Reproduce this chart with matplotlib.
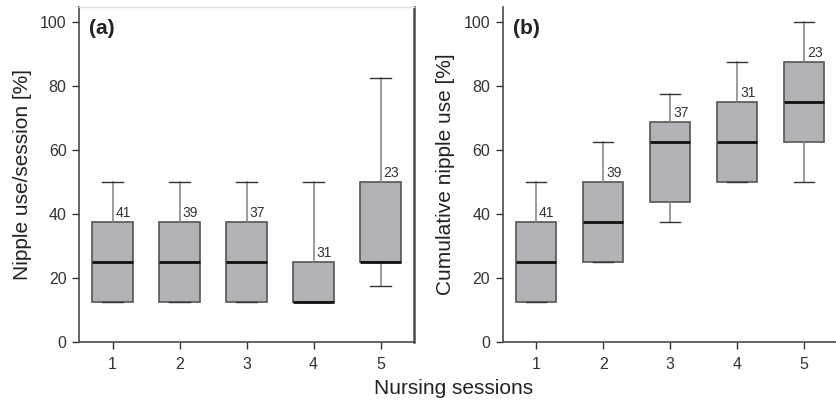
import matplotlib
matplotlib.use("Agg")
import matplotlib.pyplot as plt

plt.rcParams['font.family'] = ['Liberation Sans', 'DejaVu Sans']

sessions = [1, 2, 3, 4, 5]
n_labels = ["41", "39", "37", "31", "23"]

# Panel (a): nipple use per session [%]
a_whislo = [12.5, 12.5, 12.5, 12.5, 17.5]
a_q1 = [12.5, 12.5, 12.5, 12.5, 25.0]
a_med = [25.0, 25.0, 25.0, 12.5, 25.0]
a_q3 = [37.5, 37.5, 37.5, 25.0, 50.0]
a_whishi = [50.0, 50.0, 50.0, 50.0, 82.5]

# Panel (b): cumulative nipple use [%]
b_whislo = [12.5, 25.0, 37.5, 50.0, 50.0]
b_q1 = [12.5, 25.0, 43.75, 50.0, 62.5]
b_med = [25.0, 37.5, 62.5, 62.5, 75.0]
b_q3 = [37.5, 50.0, 68.75, 75.0, 87.5]
b_whishi = [50.0, 62.5, 77.5, 87.5, 100.0]

yticks = [0, 20, 40, 60, 80, 100]

fig = plt.figure(figsize=(8.36, 4.03), dpi=100)
axa = fig.add_axes([79/836, 1-342/403, 335/836, 335/403])
axb = fig.add_axes([502.7/836, 1-342/403, 335/836, 335/403])

spine_col = '#4a4a4a'

def draw(ax, wlo, q1, med, q3, whi, ylabel, tag, boxed):
    stats = []
    for i in range(len(sessions)):
        stats.append(dict(whislo=wlo[i], q1=q1[i], med=med[i], q3=q3[i],
                          whishi=whi[i], fliers=[], label=str(sessions[i])))
    ax.bxp(stats, positions=sessions, widths=0.6, patch_artist=True,
           showfliers=False,
           boxprops=dict(facecolor='#b1b2b5', edgecolor='#555555', linewidth=1.2),
           medianprops=dict(color='#111111', linewidth=2.0),
           whiskerprops=dict(color='#808080', linewidth=1.1),
           capprops=dict(color='#333333', linewidth=1.0),
           capwidths=0.3)
    for i, x in enumerate(sessions):
        ax.annotate(n_labels[i], (x, q3[i]), xytext=(2, 1.5),
                    textcoords='offset points', ha='left', va='bottom',
                    fontsize=10, color='#333333')
    ax.set_xlim(0.5, 5.5)
    ax.set_ylim(0, 104.7)
    ax.set_yticks(yticks)
    ax.set_xticks(sessions)
    ax.set_xticklabels([str(s) for s in sessions])
    ax.tick_params(axis='both', labelsize=11.5, colors='#333333',
                   length=5, width=1, direction='out', pad=4)
    ax.tick_params(axis='x', pad=6)
    for s in ['left', 'bottom']:
        ax.spines[s].set_color(spine_col)
        ax.spines[s].set_linewidth(1.2)
    if boxed:
        ax.spines['top'].set_color('#e2e2e2')
        ax.spines['top'].set_linewidth(1.0)
        ax.spines['right'].set_color(spine_col)
        ax.spines['right'].set_linewidth(1.8)
    else:
        ax.spines['top'].set_visible(False)
        ax.spines['right'].set_visible(False)
    ax.set_ylabel(ylabel, fontsize=15, color='#222222', labelpad=6)
    ax.text(0.03, 0.965, tag, transform=ax.transAxes, fontsize=15,
            fontweight='bold', ha='left', va='top', color='#222222')

draw(axa, a_whislo, a_q1, a_med, a_q3, a_whishi,
     'Nipple use/session [%]', '(a)', True)
draw(axb, b_whislo, b_q1, b_med, b_q3, b_whishi,
     'Cumulative nipple use [%]', '(b)', False)

fig.text(454/836, 1-389/403, 'Nursing sessions', ha='center', va='center',
         fontsize=15, color='#222222')

fig.savefig('out.png', dpi=100)
